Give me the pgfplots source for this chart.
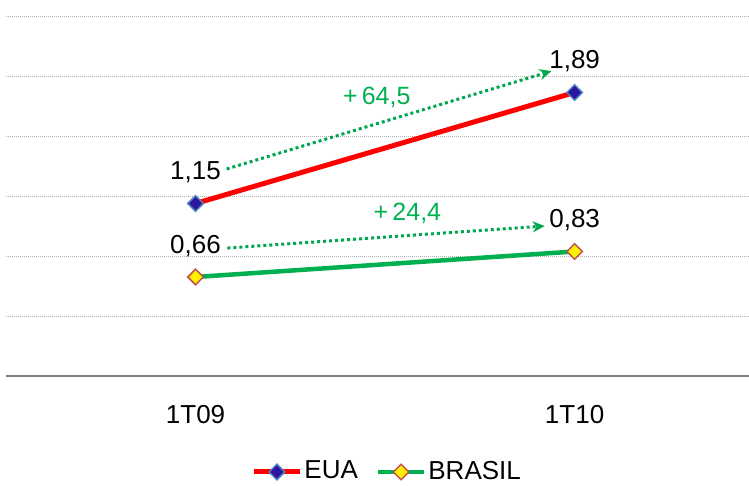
\documentclass[border=0pt]{standalone}
\usepackage{pgfplots}
\pgfplotsset{compat=1.18}
\usepackage{fontspec}
\setmainfont{Liberation Sans}
\usetikzlibrary{arrows.meta}

\definecolor{euared}{RGB}{255,0,0}
\definecolor{brgreen}{RGB}{0,176,80}
\definecolor{notegreen}{RGB}{0,166,80}
\definecolor{euafill}{RGB}{44,22,160}
\definecolor{euaedge}{RGB}{79,129,189}
\definecolor{bredge}{RGB}{192,80,77}

\begin{document}
\fontsize{26}{30}\selectfont
\begin{tikzpicture}
    \begin{axis}[
        at={(6pt,110pt)},anchor=south west,
        scale only axis,width=743pt,height=375pt,
        xmin=-0.5,xmax=1.46,ymin=0,ymax=2.5,
        clip=false,
        axis line style={draw=none},
        major tick length=0pt,
        xtick={0,1},xticklabels={1T09,1T10},
        xticklabel style={anchor=center,yshift=-39pt,font=\fontsize{26}{30}\selectfont},
        ytick={0.4,0.8,1.2,1.6,2.0,2.4},yticklabels={},
        ymajorgrids,
        grid style={draw=gray!60,line width=0.8pt,dash pattern=on 1pt off 1pt},
        /pgf/number format/.cd,use comma,fixed,fixed zerofill,precision=2,assume math mode=true,
        /pgfplots/.cd,
        nodes near coords,
        every node near coord/.append style={anchor=center,yshift=31pt,black,font=\fontsize{26}{30}\selectfont},
        legend columns=2,
        legend style={at={(axis description cs:0.513,-0.256)},anchor=center,
            draw=none,fill=none,font=\fontsize{26}{30}\selectfont,
            /tikz/every even column/.append style={column sep=16pt},
            inner sep=0pt,nodes={inner sep=2pt}},
        legend image code/.code={
            \draw[#1,mark repeat=2,mark phase=2] plot coordinates {(0pt,0pt)(23pt,0pt)(46pt,0pt)};},
    ]
        \draw[draw=gray,line width=2pt] (rel axis cs:0,0) -- (rel axis cs:1,0);

        \addplot[euared,line width=5pt,mark=square*,mark size=5.5pt,
            mark options={rotate=45,fill=euafill,draw=euaedge,line width=1.5pt}]
            coordinates {(0,1.15) (1,1.89)};
        \addlegendentry{EUA}
        \addplot[brgreen,line width=4.5pt,mark=square*,mark size=5.5pt,
            mark options={rotate=45,fill=yellow,draw=bredge,line width=1.5pt}]
            coordinates {(0,0.66) (1,0.83)};
        \addlegendentry{BRASIL}

        \draw[notegreen,line width=3pt,dash pattern=on 3pt off 3pt,
            -{Stealth[length=12pt,width=11pt]}]
            (axis cs:0.082,1.38) -- (axis cs:0.939,2.033);
        \draw[notegreen,line width=3pt,dash pattern=on 3pt off 3pt,
            -{Stealth[length=12pt,width=11pt]}]
            (axis cs:0.084,0.853) -- (axis cs:0.921,1.0);
        \node[brgreen,font=\fontsize{25}{30}\selectfont] at (axis cs:0.478,1.86) {+\,64,5};
        \node[brgreen,font=\fontsize{25}{30}\selectfont] at (axis cs:0.559,1.087) {+\,24,4};
    \end{axis}
    \pgfresetboundingbox
    \path[use as bounding box] (0,0) rectangle (749pt,486pt);
\end{tikzpicture}
\end{document}
